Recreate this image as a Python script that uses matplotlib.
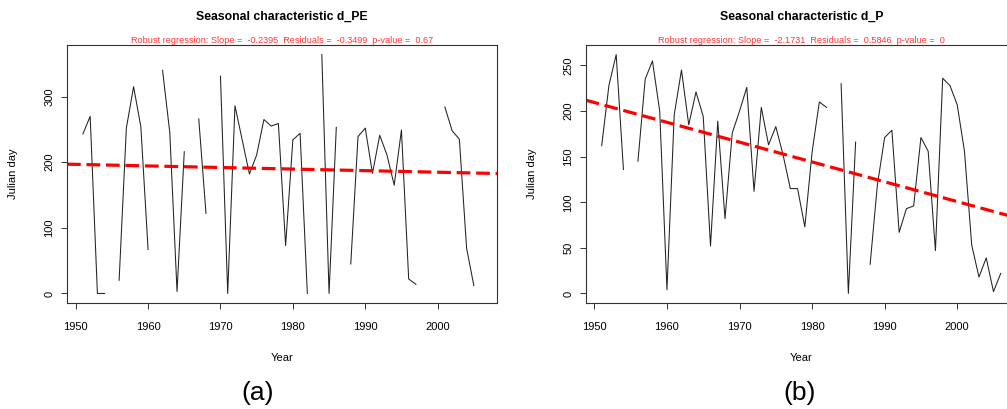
import numpy as np
import matplotlib
matplotlib.use("Agg")
import matplotlib.pyplot as plt

plt.rcParams['font.family'] = ['Liberation Sans', 'DejaVu Sans']

# years on the x axis (one value per year, nan = missing)
years = list(range(1951, 2007))

d_PE = [243, 270, 0, 0, np.nan, 20, 252, 315, 254, 67,
        np.nan, 340, 245, 3, 216, np.nan, 266, 122, np.nan, 331,
        0, 286, 234, 182, 211, 265, 255, 259, 73, 234,
        244, 0, np.nan, 364, 0, 253, np.nan, 45, 239, 252,
        183, 241, 211, 165, 249, 22, 14, np.nan, np.nan, np.nan,
        284, 248, 235, 69, 12, np.nan]

d_P = [162, 228, 262, 136, np.nan, 145, 235, 255, 200, 4,
       196, 245, 185, 221, 194, 52, 189, 82, 176, 200,
       226, 112, 204, 163, 183, 152, 115, 115, 73, 155,
       210, 204, np.nan, 230, 0, 166, np.nan, 32, 119, 171,
       179, 67, 93, 96, 171, 156, 47, 236, 228, 207,
       156, 53, 18, 39, 2, 22]

# robust regression lines: fitted value in 1950 and slope per year
trend_1950 = [196.7, 209.4]
slopes = [-0.2395, -2.1731]

titles = ["Seasonal characteristic d_PE", "Seasonal characteristic d_P"]
subtitles = ["Robust regression: Slope =  -0.2395  Residuals =  -0.3499  p-value =  0.67",
             "Robust regression: Slope =  -2.1731  Residuals =  0.5846  p-value =  0"]
yticks = [[0, 100, 200, 300], [0, 50, 100, 150, 200, 250]]
xticks = [1950, 1960, 1970, 1980, 1990, 2000]
captions = ["(a)", "(b)"]

W, H = 1007, 409
fig = plt.figure(figsize=(W / 100, H / 100), dpi=100)

# axes boxes in pixels (left, top, width, height) - right one runs off the page
boxes = [(67, 45, 430, 258), (585.7, 45, 431, 258)]
caption_x = [258, 800]

for i, series in enumerate([d_PE, d_P]):
    l, t, w, h = boxes[i]
    ax = fig.add_axes([l / W, (H - t - h) / H, w / W, h / H])
    vals = np.array(series, dtype=float)
    ax.plot(years, vals, color='#222222', lw=0.75)

    # R style 4% padding around the data
    xr = max(years) - min(years)
    ax.set_xlim(min(years) - 0.04 * xr, max(years) + 0.04 * xr)
    ymin, ymax = np.nanmin(vals), np.nanmax(vals)
    yr = ymax - ymin
    ax.set_ylim(ymin - 0.04 * yr, ymax + 0.04 * yr)

    ax.axline((1950, trend_1950[i]), slope=slopes[i], color='red', lw=2.3,
              linestyle=(0, (4.3, 1.8)))

    ax.set_xticks(xticks)
    ax.set_yticks(yticks[i])
    ax.set_yticklabels([str(v) for v in yticks[i]], rotation=90, va='center')
    ax.tick_params(axis='both', labelsize=8, length=4.5, width=0.7, color='#333333')
    ax.tick_params(axis='x', pad=9)
    ax.tick_params(axis='y', pad=4.5)
    for s in ax.spines.values():
        s.set_color('#333333')
        s.set_linewidth(0.8)

    ax.set_xlabel("Year", fontsize=8)
    ax.xaxis.set_label_coords(0.5, -50 / h)
    ax.set_ylabel("Julian day", fontsize=8)
    ax.yaxis.set_label_coords(-49 / w, 0.5)

    ax.text(0.5, 1 + 28.3 / h, titles[i], transform=ax.transAxes, ha='center',
            va='center', fontsize=8.8, fontweight='bold')
    ax.text(0.5, 1 + 4.5 / h, subtitles[i], transform=ax.transAxes, ha='center',
            va='center', fontsize=6.6, color='#ff3838')

    fig.text(caption_x[i] / W, (H - 393) / H, captions[i], ha='center', va='center',
             fontsize=19)

fig.savefig("out.png", dpi=100)
